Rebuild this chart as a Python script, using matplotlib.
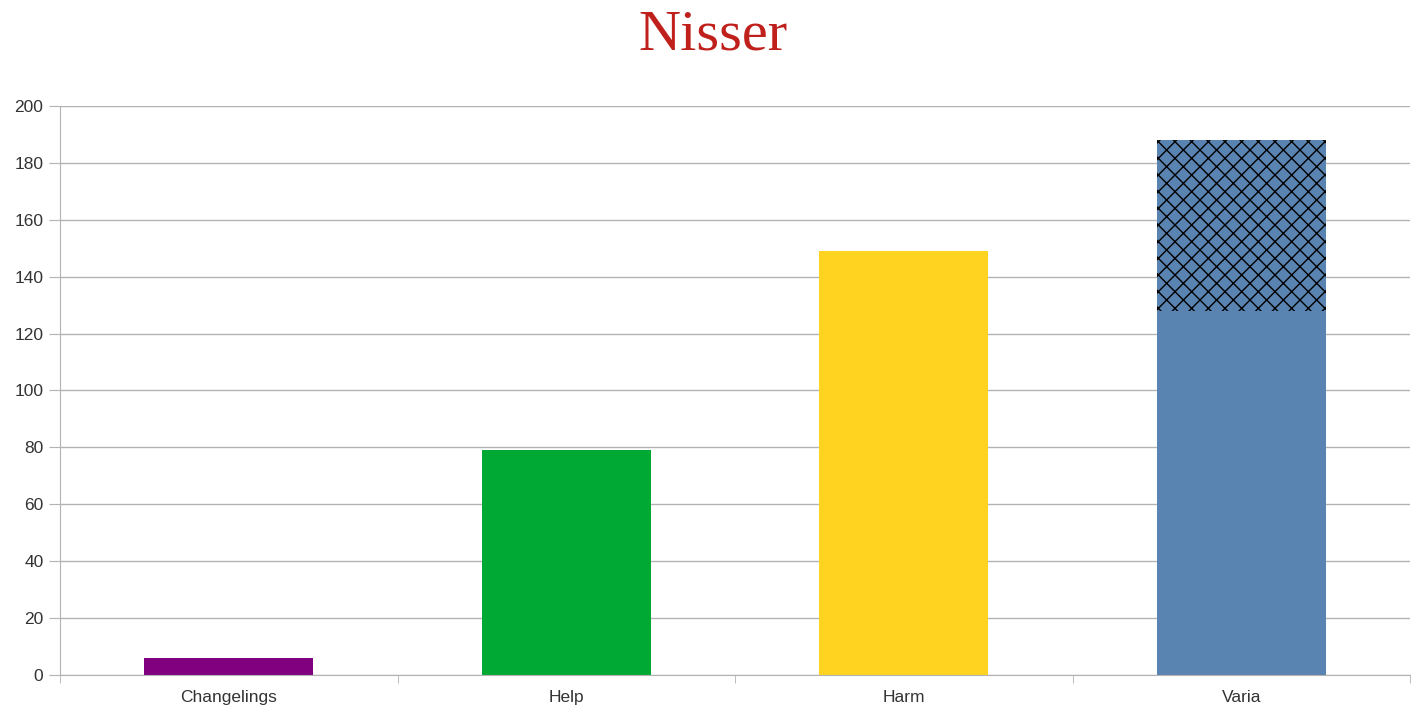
import numpy as np
import matplotlib.pyplot as plt

# data
categories = ["Changelings", "Help", "Harm", "Varia"]
values     = [6, 79, 149, 128]
extra      = [0, 0, 0, 60]   # hatched part stacked on top
colors     = ["#800080", "#00A933", "#FFD320", "#5983B0"]
yticks     = [0, 20, 40, 60, 80, 100, 120, 140, 160, 180, 200]

plt.rcParams['font.family'] = 'Liberation Sans'
plt.rcParams['hatch.linewidth'] = 1.0

fig = plt.figure(figsize=(14.2, 7.11), dpi=100)
ax = fig.add_axes([0.0423, 0.0506, 0.9507, 0.8004])

x = np.arange(len(categories))
ax.bar(x, values, width=0.5, color=colors, zorder=2)
ax.bar(x[3], extra[3], bottom=values[3], width=0.5, facecolor=colors[3],
       edgecolor='black', linewidth=0, hatch='xx', zorder=2)

ax.set_xlim(-0.5, len(categories) - 0.5)
ax.set_ylim(0, 200)
ax.set_yticks(yticks)
ax.yaxis.grid(True, color='#B3B3B3', lw=1)
ax.set_axisbelow(True)

ax.set_xticks(x)
ax.set_xticklabels(categories)
ax.set_xticks(np.arange(len(categories) + 1) - 0.5, minor=True)
ax.tick_params(axis='x', which='major', length=0, labelsize=12.5, pad=11, colors='#333333')
ax.tick_params(axis='x', which='minor', length=6, color='#B3B3B3')
ax.tick_params(axis='y', length=8, color='#B3B3B3', labelsize=12.5, pad=4, labelcolor='#333333')

for s in ['top', 'right']:
    ax.spines[s].set_visible(False)
for s in ['left', 'bottom']:
    ax.spines[s].set_color('#B3B3B3')

fig.text(0.5018, 0.9297, "Nisser", ha='center', va='baseline', fontsize=42,
         family='Liberation Serif', color='#C0201C')

fig.savefig('out.png', dpi=100)
